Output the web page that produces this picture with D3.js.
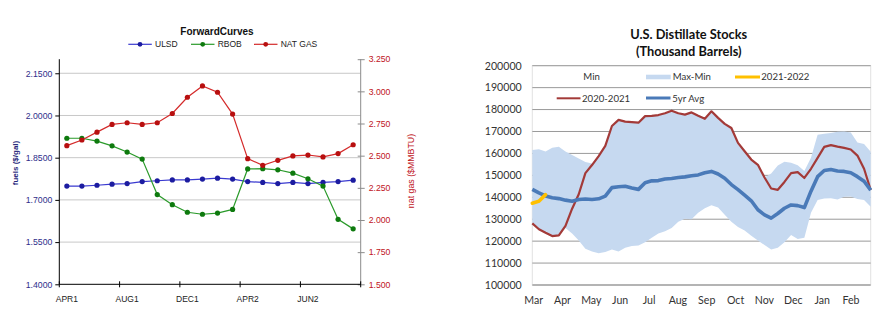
<!DOCTYPE html>
<html>
<head>
<meta charset="utf-8">
<script src="https://cdn.jsdelivr.net/npm/d3@7"></script>
<style>
  html, body { margin: 0; padding: 0; background: #fff; }
  svg { display: block; }
</style>
</head>
<body>
<svg id="chart" width="894" height="334"></svg>
<script>
// ---------- Forward curves (20 monthly contracts) ----------
const contracts = d3.range(20);
const contractTickIdx = [0, 4, 8, 12, 16];
const contractTickLabels = ["APR1", "AUG1", "DEC1", "APR2", "JUN2"];
const ulsd = [1.749, 1.749, 1.752, 1.756, 1.758, 1.765, 1.768, 1.771, 1.771, 1.774,
              1.777, 1.774, 1.765, 1.762, 1.758, 1.762, 1.758, 1.762, 1.765, 1.770];
const rbob = [1.919, 1.919, 1.909, 1.892, 1.870, 1.845, 1.719, 1.683, 1.656, 1.649,
              1.653, 1.666, 1.810, 1.811, 1.807, 1.795, 1.775, 1.749, 1.631, 1.597];
const natGas = [2.578, 2.622, 2.683, 2.743, 2.756, 2.743, 2.756, 2.828, 2.954, 3.042,
                2.993, 2.823, 2.477, 2.425, 2.464, 2.498, 2.505, 2.490, 2.516, 2.585];
const fuelTicks = [1.40, 1.55, 1.70, 1.85, 2.00, 2.15];
const gasTicks = [1.50, 1.75, 2.00, 2.25, 2.50, 2.75, 3.00, 3.25];

// ---------- U.S. distillate stocks (weekly, thousand barrels) ----------
const monthLabels = ["Mar", "Apr", "May", "Jun", "Jul", "Aug", "Sep", "Oct", "Nov", "Dec", "Jan", "Feb"];
const stockTicks = [100000, 110000, 120000, 130000, 140000, 150000, 160000, 170000, 180000, 190000, 200000];
const stocksMin = [128100, 125400, 123800, 122300, 122600, 126000, 123500, 120300, 116500, 115300,
                   114500, 115000, 116200, 115300, 117000, 117800, 118000, 119500, 121600, 123500,
                   124500, 126000, 128800, 130200, 130000, 133000, 135000, 136400, 135300, 132000,
                   128800, 126500, 124800, 122500, 120300, 118200, 116200, 117000, 119500, 122800,
                   121000, 121500, 133000, 138800, 139500, 139600, 139000, 140200, 140300, 139200,
                   138800, 135700];
const stocksMax = [161600, 161900, 160900, 162600, 163000, 160900, 159300, 157700, 156100, 155400,
                   158800, 163400, 172500, 175300, 174500, 174300, 174000, 177000, 177100, 177500,
                   178300, 179500, 178300, 177700, 178700, 177200, 175800, 179200, 176200, 173500,
                   171600, 164800, 161000, 157200, 154800, 149000, 150800, 154500, 156200, 155800,
                   154600, 152000, 158000, 168500, 169000, 169300, 169900, 170000, 169500, 165000,
                   164300, 160800];
const stocks2020 = [128100, 125400, 123800, 122300, 122600, 127000, 134800, 141400, 151000, 154700,
                    158800, 163400, 172500, 175300, 174500, 174300, 174000, 177000, 177100, 177500,
                    178300, 179500, 178300, 177700, 178700, 177200, 175800, 179200, 176200, 173500,
                    171600, 164800, 161000, 157200, 154800, 149000, 144000, 143400, 147000, 151000,
                    151500, 148800, 153000, 158000, 163000, 163800, 163100, 162500, 161800, 159000,
                    153000, 143300];
const stocksAvg5 = [143600, 142000, 140600, 139800, 139400, 138700, 138200, 139000, 139200, 139000,
                    139300, 140500, 144400, 144800, 145000, 144200, 143600, 146600, 147500, 147600,
                    148300, 148600, 149000, 149300, 149800, 150200, 151200, 151800, 150600, 148700,
                    145800, 143500, 141000, 138400, 134300, 132000, 130500, 132600, 135000, 136500,
                    136200, 135300, 142800, 149400, 152200, 152700, 152000, 151800, 151200, 149400,
                    147300, 143300];
const stocks2021 = [137300, 138200, 141200];

const svg = d3.select("#chart");
const ARIAL = "'Liberation Sans', Arial, sans-serif";
const CAL = "Lato, 'Open Sans', sans-serif";

// ======================= Forward curves =======================
(function forwardCurves() {
  const left = 59.3, right = 360.7, top = 59.2, bottom = 284.3;
  const x = d3.scaleBand().domain(contracts).range([left, right]);
  const yL = d3.scaleLinear().domain([1.4, 2.2]).range([bottom, top]);
  const yR = d3.scaleLinear().domain([1.5, 3.25]).range([bottom, top]);
  const g = svg.append("g");

  // gridlines
  g.append("g").selectAll("line").data(fuelTicks.slice(1)).join("line")
    .attr("x1", left).attr("x2", right)
    .attr("y1", d => yL(d)).attr("y2", d => yL(d))
    .attr("stroke", "#c8c8c8").attr("stroke-width", 1);

  // left axis
  const axL = g.append("g").attr("transform", `translate(${left},0)`)
    .call(d3.axisLeft(yL).tickValues(fuelTicks).tickFormat(d3.format(".4f")).tickSizeOuter(0).tickSize(4).tickPadding(3));
  axL.select(".domain").attr("stroke", "#000").attr("d", `M0,${top}V${bottom}`);
  axL.selectAll(".tick line").attr("stroke", "#000");
  axL.selectAll("text").attr("font-family", ARIAL).attr("font-size", 8.7).attr("fill", "#2e2e8a");

  // right axis
  const axR = g.append("g").attr("transform", `translate(${right},0)`)
    .call(d3.axisRight(yR).tickValues(gasTicks).tickFormat(d3.format(".3f")).tickSizeOuter(0).tickSize(4).tickPadding(4));
  axR.select(".domain").attr("stroke", "#8c8c8c").attr("d", `M0,${top}V${bottom}`);
  axR.selectAll(".tick line").attr("stroke", "#8c8c8c").attr("x1", -3);
  axR.selectAll("text").attr("font-family", ARIAL).attr("font-size", 8.7).attr("fill", "#c0141c");

  // bottom axis: tick marks on contract boundaries, labels under contracts
  g.append("line").attr("x1", left).attr("x2", right).attr("y1", bottom).attr("y2", bottom)
    .attr("stroke", "#000");
  g.append("g").selectAll("line").data([0, 4, 8, 12, 16, 20]).join("line")
    .attr("x1", i => left + i * x.step()).attr("x2", i => left + i * x.step())
    .attr("y1", bottom - 3).attr("y2", bottom + 3).attr("stroke", "#000");
  g.append("g").selectAll("text").data(contractTickIdx).join("text")
    .attr("x", i => x(i) + x.bandwidth() / 2).attr("y", 302)
    .attr("text-anchor", "middle").attr("font-family", ARIAL).attr("font-size", 8.5)
    .attr("fill", "#222").text((d, i) => contractTickLabels[i]);

  // axis titles
  g.append("text").attr("transform", "translate(18,163) rotate(-90)")
    .attr("text-anchor", "middle").attr("font-family", ARIAL).attr("font-size", 8)
    .attr("font-weight", "bold").attr("fill", "#26267a").text("fuels ($/gal)");
  g.append("text").attr("transform", "translate(414,171) rotate(-90)")
    .attr("text-anchor", "middle").attr("font-family", ARIAL).attr("font-size", 8.8)
    .attr("fill", "#c0141c").text("nat gas ($MMBTU)");

  // series
  const series = [
    { name: "ULSD", values: ulsd, y: yL, line: "#3a3ad0", dot: "#1c1ca0" },
    { name: "RBOB", values: rbob, y: yL, line: "#2a9a2a", dot: "#0e7a0e" },
    { name: "NAT GAS", values: natGas, y: yR, line: "#d42a2a", dot: "#b80f0f" }
  ];
  series.forEach(s => {
    const line = d3.line().x((d, i) => x(i) + x.bandwidth() / 2).y(d => s.y(d));
    g.append("path").attr("d", line(s.values)).attr("fill", "none")
      .attr("stroke", s.line).attr("stroke-width", 1.2);
    g.append("g").selectAll("circle").data(s.values).join("circle")
      .attr("cx", (d, i) => x(i) + x.bandwidth() / 2).attr("cy", d => s.y(d))
      .attr("r", 2.6).attr("fill", s.dot);
  });

  // title and legend
  g.append("text").attr("x", 217).attr("y", 35).attr("text-anchor", "middle")
    .attr("font-family", ARIAL).attr("font-size", 10).attr("font-weight", "bold")
    .attr("fill", "#111").text("ForwardCurves");
  const legX = [128.3, 191, 254];
  series.forEach((s, i) => {
    const lg = g.append("g").attr("transform", `translate(${legX[i]},44.3)`);
    lg.append("line").attr("x1", 0).attr("x2", 23.5).attr("stroke", s.line).attr("stroke-width", 1.2);
    lg.append("circle").attr("cx", 11.7).attr("r", 2.4).attr("fill", s.dot);
    lg.append("text").attr("x", 26.7).attr("y", 3).attr("font-family", ARIAL)
      .attr("font-size", 8.5).attr("fill", "#222").text(s.name);
  });
})();

// ======================= Distillate stocks =======================
(function distillateStocks() {
  const left = 532.3, right = 870.7, top = 65.7, bottom = 285;
  const x = d3.scaleLinear().domain([0, 51]).range([left, right]);
  const y = d3.scaleLinear().domain([100000, 200000]).range([bottom, top]);
  const g = svg.append("g");
  const weeksPerMonth = 365.25 / 12 / 7;

  // plot frame and gridlines
  g.append("rect").attr("x", left).attr("y", top).attr("width", right - left).attr("height", bottom - top)
    .attr("fill", "none").attr("stroke", "#e2e2e2").attr("stroke-width", 1);
  g.append("g").selectAll("line").data(stockTicks.slice(1)).join("line")
    .attr("x1", left).attr("x2", right).attr("y1", d => y(d)).attr("y2", d => y(d))
    .attr("stroke", "#9a9a9a").attr("stroke-width", 1);

  // max-min band
  const area = d3.area().x((d, i) => x(i)).y0((d, i) => y(stocksMin[i])).y1(d => y(d));
  g.append("path").attr("d", area(stocksMax)).attr("fill", "#c6d9f0");

  // lines
  const line = d3.line().x((d, i) => x(i)).y(d => y(d));
  g.append("path").attr("d", line(stocks2020)).attr("fill", "none")
    .attr("stroke", "#a33a38").attr("stroke-width", 2.2).attr("stroke-linejoin", "round");
  g.append("path").attr("d", line(stocksAvg5)).attr("fill", "none")
    .attr("stroke", "#4a7ab8").attr("stroke-width", 3.6).attr("stroke-linejoin", "round");
  g.append("path").attr("d", line(stocks2021)).attr("fill", "none")
    .attr("stroke", "#ffc000").attr("stroke-width", 3.6).attr("stroke-linecap", "round");

  // bottom axis line
  g.append("line").attr("x1", left).attr("x2", right).attr("y1", bottom).attr("y2", bottom)
    .attr("stroke", "#b4b4b4").attr("stroke-width", 2);

  // y labels
  g.append("g").selectAll("text").data(stockTicks).join("text")
    .attr("x", 521.7).attr("y", d => y(d) + 3.8).attr("text-anchor", "end")
    .attr("font-family", CAL).attr("font-size", 10.6).attr("fill", "#333").text(d => d);

  // month labels
  g.append("g").selectAll("text").data(monthLabels).join("text")
    .attr("x", (d, i) => x(0.2 + i * weeksPerMonth)).attr("y", 304)
    .attr("text-anchor", "middle").attr("font-family", CAL).attr("font-size", 10.6)
    .attr("fill", "#333").text(d => d);

  // title
  g.append("text").attr("x", 688.7).attr("y", 38.5).attr("text-anchor", "middle")
    .attr("font-family", CAL).attr("font-size", 12.8).attr("font-weight", "bold")
    .attr("fill", "#111").text("U.S. Distillate Stocks");
  g.append("text").attr("x", 688.7).attr("y", 55.5).attr("text-anchor", "middle")
    .attr("font-family", CAL).attr("font-size", 12.8).attr("font-weight", "bold")
    .attr("fill", "#111").text("(Thousand Barrels)");

  // legend
  const lfont = { "font-family": CAL, "font-size": 9.6, "fill": "#333" };
  const addText = (tx, ty, t) => {
    const el = g.append("text").attr("x", tx).attr("y", ty).text(t);
    Object.entries(lfont).forEach(([k, v]) => el.attr(k, v));
  };
  addText(583.3, 80, "Min");
  g.append("rect").attr("x", 646).attr("y", 74.7).attr("width", 24.7).attr("height", 4.6).attr("fill", "#c6d9f0");
  addText(672.7, 80, "Max-Min");
  g.append("line").attr("x1", 735).attr("x2", 760).attr("y1", 77).attr("y2", 77)
    .attr("stroke", "#ffc000").attr("stroke-width", 3);
  addText(761.3, 80, "2021-2022");
  g.append("line").attr("x1", 556.7).attr("x2", 580.5).attr("y1", 98.3).attr("y2", 98.3)
    .attr("stroke", "#a33a38").attr("stroke-width", 2);
  addText(582, 101.5, "2020-2021");
  g.append("line").attr("x1", 646).attr("x2", 670.5).attr("y1", 98).attr("y2", 98)
    .attr("stroke", "#4a7ab8").attr("stroke-width", 3);
  addText(672.3, 101.5, "5yr Avg");
})();
</script>
</body>
</html>
